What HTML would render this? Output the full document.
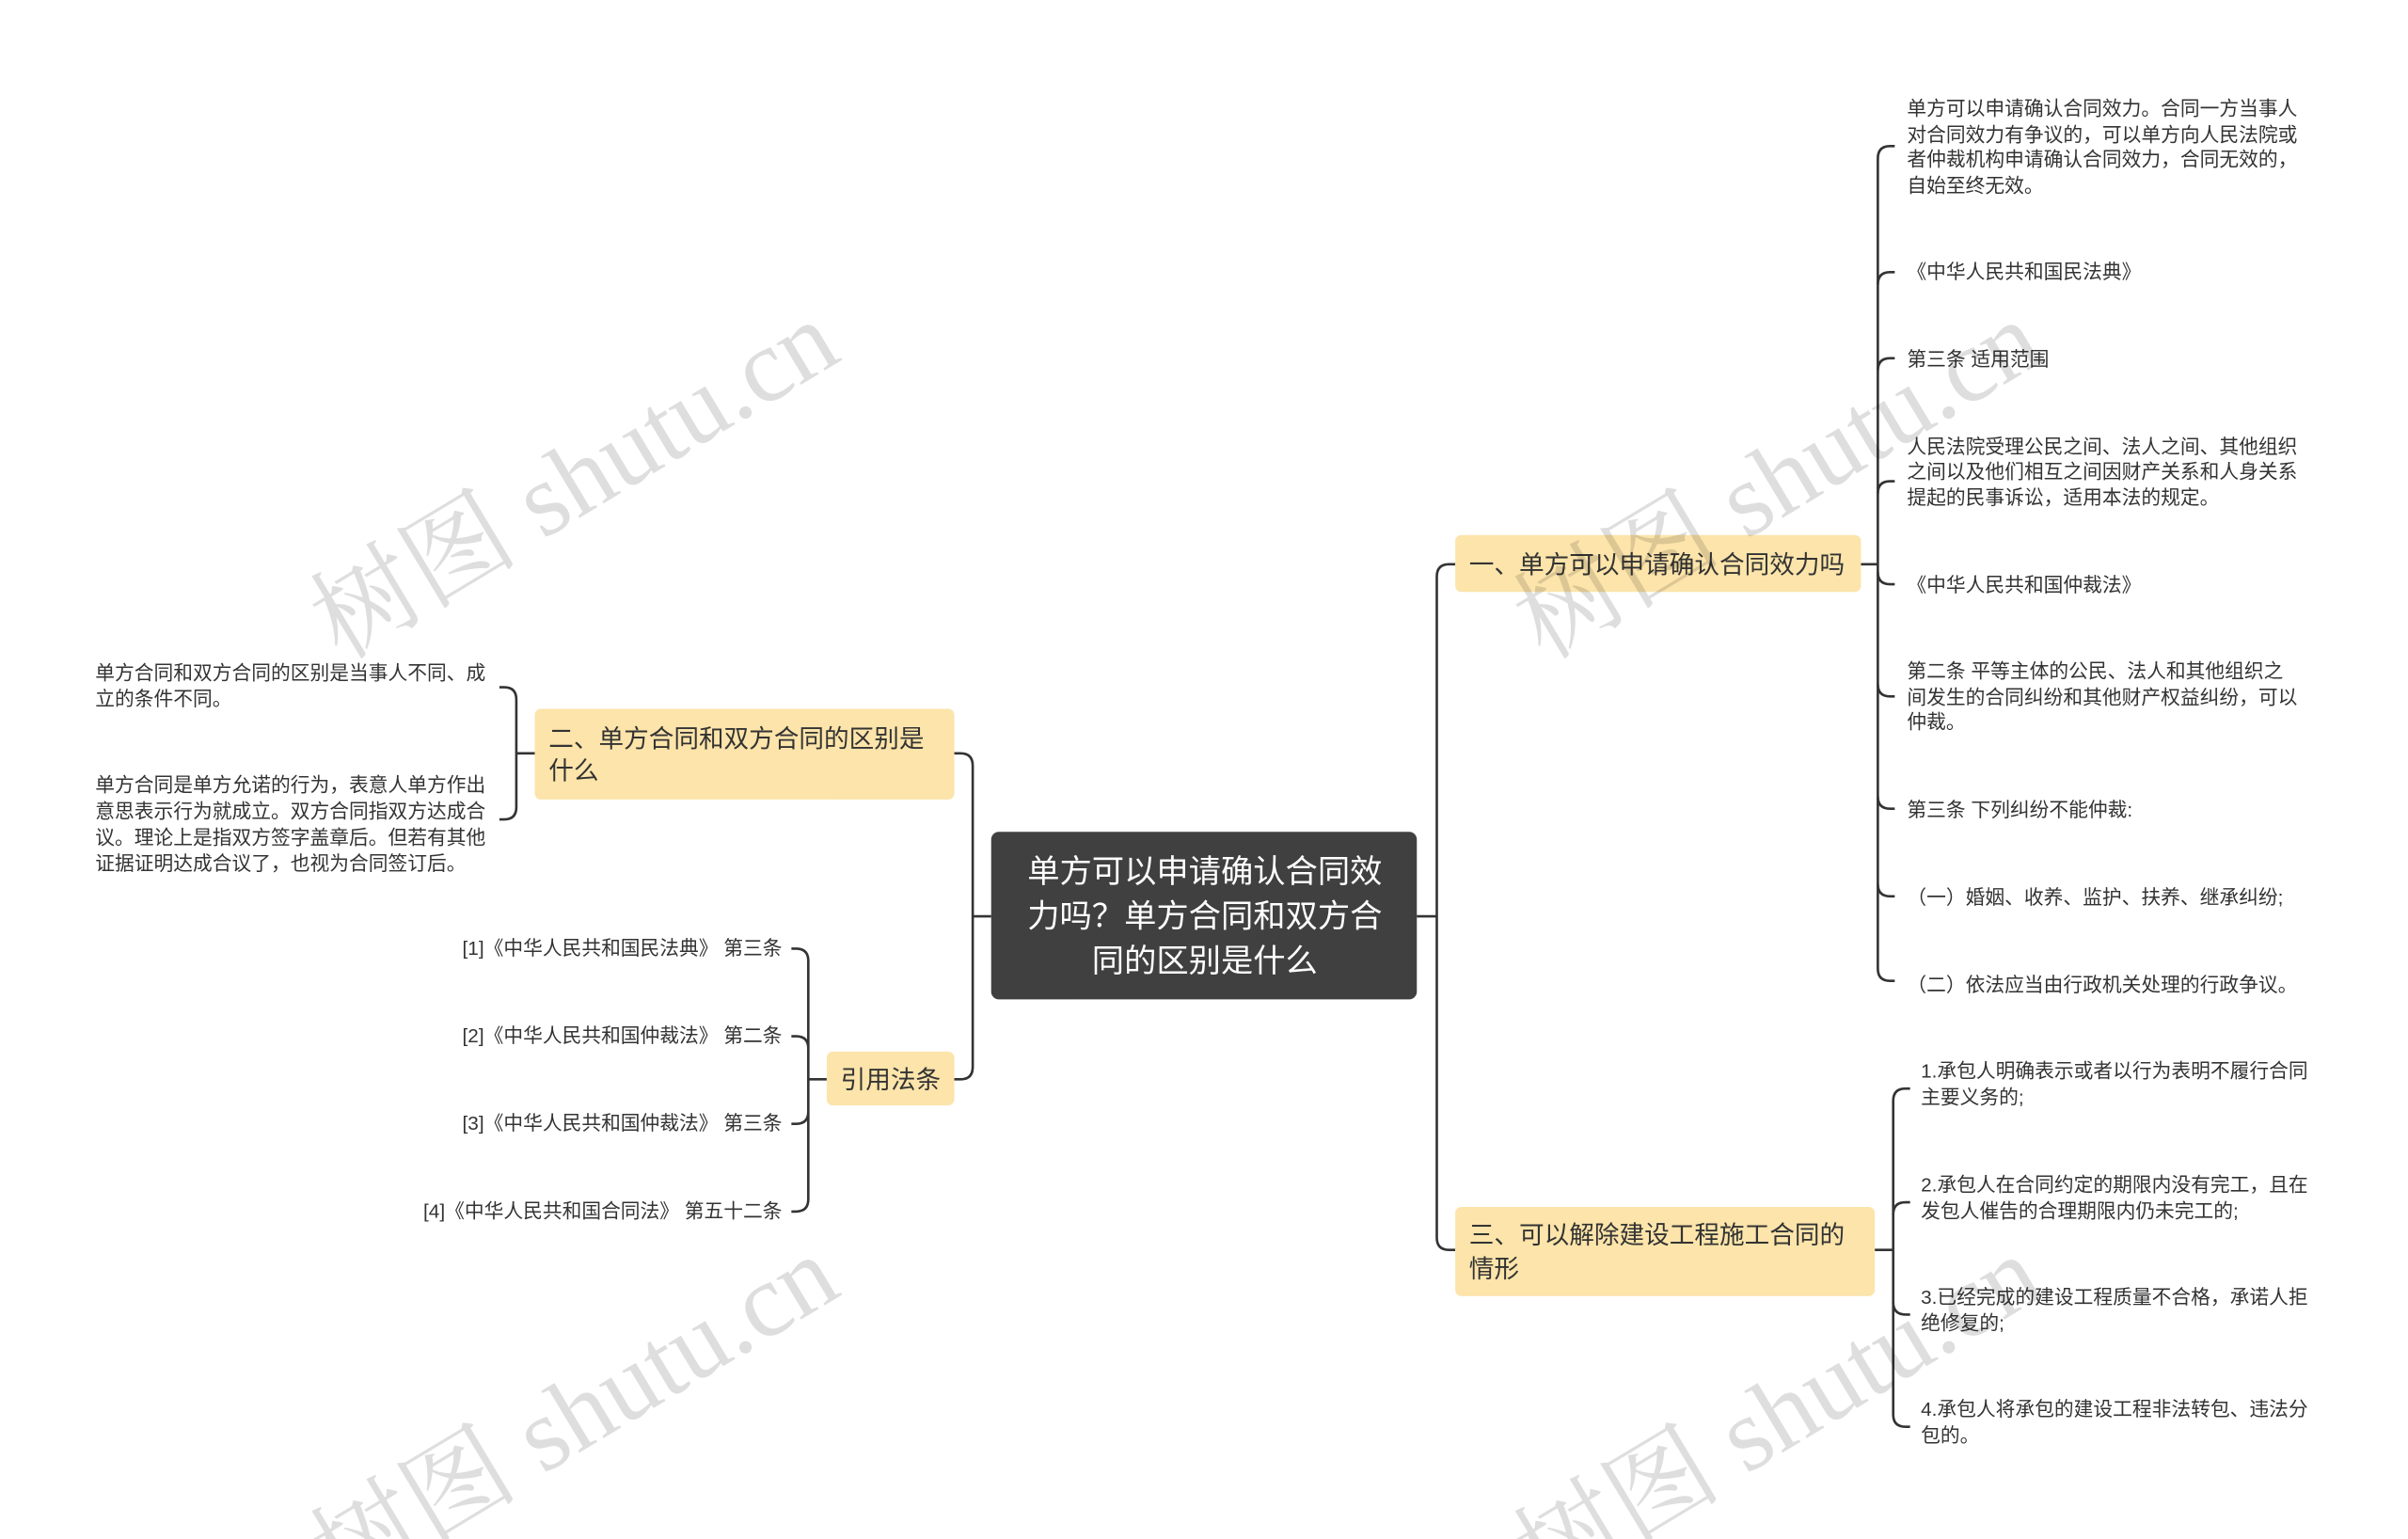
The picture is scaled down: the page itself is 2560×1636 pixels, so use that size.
<!DOCTYPE html>
<html><head><meta charset="utf-8"><style>
html,body{margin:0;padding:0;background:#fff;width:2560px;height:1636px;overflow:hidden;}
svg{display:block}
text{font-family:"Liberation Sans","Noto Sans CJK SC",sans-serif;}
</style></head><body>
<svg width="2560" height="1636" viewBox="0 0 1567 1001" preserveAspectRatio="none" xmlns="http://www.w3.org/2000/svg" style="overflow:hidden">
<g fill="none" stroke="#333" stroke-width="1.6">
<path d="M922 596 H935"/>
<path d="M947 367 H943 Q935 367 935 375 V805 Q935 813 943 813 H947"/>
<path d="M645 596 H633"/>
<path d="M621 490 H625 Q633 490 633 498 V694 Q633 702 625 702 H621"/>
<path d="M348 490 H336"/>
<path d="M325 447 H328 Q336 447 336 455 V525 Q336 533 328 533 H325"/>
<path d="M538 702 H526"/>
<path d="M515 617 H518 Q526 617 526 625 V780 Q526 788 518 788 H515"/>
<path d="M515 674 H518 Q526 674 526 682"/>
<path d="M515 731 H518 Q526 731 526 723"/>
<path d="M1211 367 H1222"/>
<path d="M1233 95 H1230 Q1222 95 1222 103 V630 Q1222 638 1230 638 H1233"/>
<path d="M1233 177 H1230 Q1222 177 1222 185"/>
<path d="M1233 233 H1230 Q1222 233 1222 241"/>
<path d="M1233 313 H1230 Q1222 313 1222 321"/>
<path d="M1233 380 H1230 Q1222 380 1222 372"/>
<path d="M1233 453 H1230 Q1222 453 1222 445"/>
<path d="M1233 526 H1230 Q1222 526 1222 518"/>
<path d="M1233 583 H1230 Q1222 583 1222 575"/>
<path d="M1220 813 H1232"/>
<path d="M1243 708 H1240 Q1232 708 1232 716 V920 Q1232 928 1240 928 H1243"/>
<path d="M1243 782 H1240 Q1232 782 1232 790"/>
<path d="M1243 855 H1240 Q1232 855 1232 847"/>
</g>
<rect x="645" y="541" width="277" height="109" rx="5" fill="#404040"/>
<g fill="#fff" font-size="21" text-anchor="middle">
<text x="784" y="574">单方可以申请确认合同效</text>
<text x="784" y="603">力吗？单方合同和双方合</text>
<text x="784" y="632">同的区别是什么</text>
</g>
<g fill="#fce4aa">
<rect x="947" y="348" width="264" height="37" rx="4"/>
<rect x="947" y="785" width="273" height="58" rx="4"/>
<rect x="348" y="461" width="273" height="59" rx="4"/>
<rect x="538" y="684" width="83" height="35" rx="4"/>
</g>
<g fill="#333" font-size="16.3">
<text x="956" y="373">一、单方可以申请确认合同效力吗</text>
<text x="956" y="809">三、可以解除建设工程施工合同的</text>
<text x="956" y="831">情形</text>
<text x="357" y="486">二、单方合同和双方合同的区别是</text>
<text x="357" y="507">什么</text>
<text x="547" y="708">引用法条</text>
</g>
<g fill="#333" font-size="12.7">
<text x="62" y="442">单方合同和双方合同的区别是当事人不同、成</text>
<text x="62" y="459">立的条件不同。</text>
<text x="62" y="515">单方合同是单方允诺的行为，表意人单方作出</text>
<text x="62" y="532">意思表示行为就成立。双方合同指双方达成合</text>
<text x="62" y="549">议。理论上是指双方签字盖章后。但若有其他</text>
<text x="62" y="566">证据证明达成合议了，也视为合同签订后。</text>
</g>
<g fill="#333" font-size="12.7" text-anchor="end">
<text x="509" y="621">[1]《中华人民共和国民法典》 第三条</text>
<text x="509" y="678">[2]《中华人民共和国仲裁法》 第二条</text>
<text x="509" y="735">[3]《中华人民共和国仲裁法》 第三条</text>
<text x="509" y="792">[4]《中华人民共和国合同法》 第五十二条</text>
</g>
<g fill="#333" font-size="12.7">
<text x="1241" y="75">单方可以申请确认合同效力。合同一方当事人</text>
<text x="1241" y="92">对合同效力有争议的，可以单方向人民法院或</text>
<text x="1241" y="108">者仲裁机构申请确认合同效力，合同无效的，</text>
<text x="1241" y="125">自始至终无效。</text>
<text x="1241" y="181">《中华人民共和国民法典》</text>
<text x="1241" y="238">第三条 适用范围</text>
<text x="1241" y="295">人民法院受理公民之间、法人之间、其他组织</text>
<text x="1241" y="311">之间以及他们相互之间因财产关系和人身关系</text>
<text x="1241" y="328">提起的民事诉讼，适用本法的规定。</text>
<text x="1241" y="385">《中华人民共和国仲裁法》</text>
<text x="1241" y="441">第二条 平等主体的公民、法人和其他组织之</text>
<text x="1241" y="458">间发生的合同纠纷和其他财产权益纠纷，可以</text>
<text x="1241" y="474">仲裁。</text>
<text x="1241" y="531">第三条 下列纠纷不能仲裁:</text>
<text x="1241" y="588">（一）婚姻、收养、监护、扶养、继承纠纷;</text>
<text x="1241" y="645">（二）依法应当由行政机关处理的行政争议。</text>
<text x="1250" y="701">1.承包人明确表示或者以行为表明不履行合同</text>
<text x="1250" y="718">主要义务的;</text>
<text x="1250" y="775">2.承包人在合同约定的期限内没有完工，且在</text>
<text x="1250" y="792">发包人催告的合理期限内仍未完工的;</text>
<text x="1250" y="848">3.已经完成的建设工程质量不合格，承诺人拒</text>
<text x="1250" y="865">绝修复的;</text>
<text x="1250" y="921">4.承包人将承包的建设工程非法转包、违法分</text>
<text x="1250" y="938">包的。</text>
</g>
<g fill="#000" fill-opacity="0.13" font-size="68">
<text transform="translate(222,430) rotate(-31)" style="font-family:'Liberation Serif','Noto Serif CJK SC',serif">树图 shutu.cn</text>
<text transform="translate(222,1038) rotate(-31)" style="font-family:'Liberation Serif','Noto Serif CJK SC',serif">树图 shutu.cn</text>
<text transform="translate(1005,430) rotate(-31)" style="font-family:'Liberation Serif','Noto Serif CJK SC',serif">树图 shutu.cn</text>
<text transform="translate(1005,1038) rotate(-31)" style="font-family:'Liberation Serif','Noto Serif CJK SC',serif">树图 shutu.cn</text>
</g>
</svg>
</body></html>
